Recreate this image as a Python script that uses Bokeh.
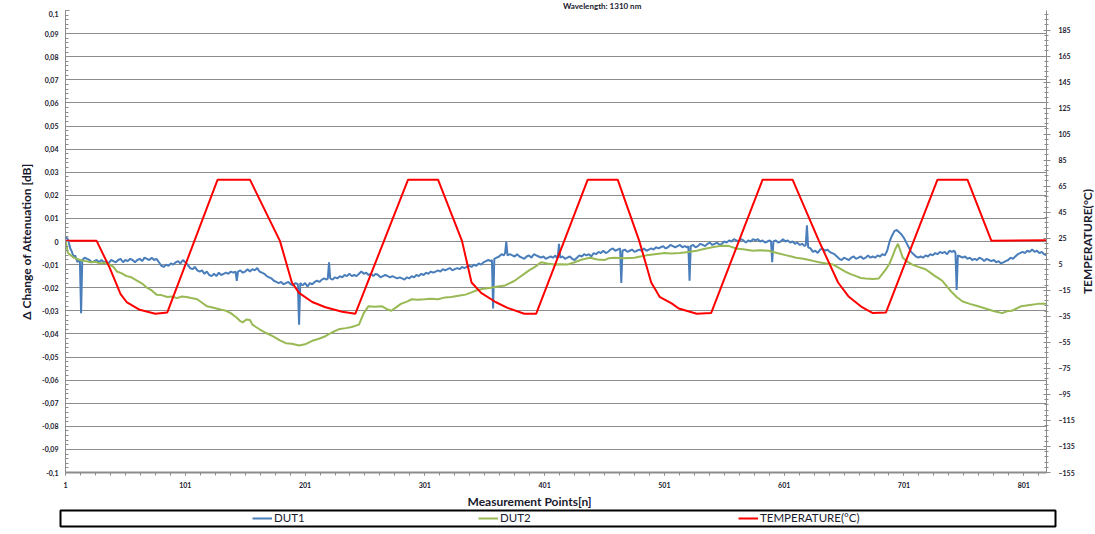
from bokeh.plotting import figure
from bokeh.layouts import column, row
from bokeh.models import (Range1d, LinearAxis, FixedTicker, Legend, LegendItem, Title,
                          Label)
from bokeh.embed import file_html
from bokeh.resources import INLINE

# ---------------- data ----------------
# DUT1: (measurement point, delta attenuation dB)
dut1_pts = [
    (1, 0.002), (2, 0.0015), (3, 0.001), (4, -0.001), (5, -0.003), (6, -0.004), (8, -0.007),
    (9, -0.006), (11, -0.009), (12, -0.008), (13, -0.008), (14, -0.031), (15, -0.008),
    (17, -0.007), (19, -0.0075), (21, -0.008), (23, -0.009), (25, -0.0085), (27, -0.008),
    (29, -0.009), (31, -0.008), (33, -0.009), (35, -0.0085), (37, -0.0095), (39, -0.008),
    (41, -0.0085), (43, -0.009), (45, -0.008), (47, -0.0075), (49, -0.009), (51, -0.008),
    (53, -0.0085), (55, -0.0075), (57, -0.008), (59, -0.009), (61, -0.008), (63, -0.0075),
    (65, -0.0085), (67, -0.007), (69, -0.0075), (71, -0.008), (73, -0.007), (75, -0.008),
    (77, -0.0075), (79, -0.009), (81, -0.0105), (83, -0.011), (85, -0.010), (87, -0.0105),
    (89, -0.0095), (91, -0.010), (93, -0.009), (95, -0.0085), (97, -0.0095), (99, -0.008),
    (101, -0.009), (103, -0.010), (105, -0.0115), (107, -0.012), (109, -0.011),
    (111, -0.0125), (113, -0.013), (115, -0.0125), (117, -0.014), (119, -0.013),
    (121, -0.0145), (123, -0.015), (125, -0.014), (127, -0.015), (129, -0.0135),
    (131, -0.0145), (133, -0.014), (135, -0.0135), (137, -0.014), (139, -0.013),
    (141, -0.0135), (143, -0.013), (144, -0.017), (145, -0.013), (147, -0.0125),
    (149, -0.0135), (151, -0.013), (153, -0.012), (155, -0.013), (157, -0.012),
    (159, -0.0125), (161, -0.0115), (163, -0.013), (165, -0.0135), (167, -0.014),
    (169, -0.015), (171, -0.0155), (173, -0.016), (175, -0.017), (177, -0.0175),
    (179, -0.018), (181, -0.0175), (183, -0.0185), (185, -0.018), (187, -0.0175),
    (189, -0.0185), (191, -0.019), (193, -0.018), (195, -0.0185), (196, -0.036),
    (197, -0.018), (199, -0.019), (201, -0.018), (203, -0.0195), (205, -0.018),
    (207, -0.0185), (209, -0.0175), (211, -0.017), (213, -0.0175), (215, -0.0165),
    (217, -0.016), (219, -0.0165), (220, -0.016), (221, -0.009), (222, -0.016),
    (224, -0.0165), (226, -0.0155), (228, -0.016), (230, -0.015), (232, -0.0155),
    (234, -0.0145), (236, -0.015), (238, -0.014), (240, -0.015), (242, -0.0145),
    (244, -0.015), (246, -0.014), (248, -0.013), (250, -0.014), (252, -0.0135),
    (254, -0.0145), (256, -0.014), (258, -0.015), (260, -0.014), (262, -0.0145),
    (264, -0.0155), (266, -0.015), (268, -0.0145), (270, -0.015), (272, -0.0155),
    (274, -0.015), (276, -0.0155), (278, -0.016), (280, -0.0155), (282, -0.016),
    (284, -0.0165), (286, -0.0155), (288, -0.016), (290, -0.015), (292, -0.0155),
    (294, -0.0145), (296, -0.015), (298, -0.014), (300, -0.0145), (302, -0.0135),
    (304, -0.014), (306, -0.013), (308, -0.0135), (310, -0.013), (312, -0.0125),
    (314, -0.013), (316, -0.012), (318, -0.0125), (320, -0.012), (322, -0.0115),
    (324, -0.0125), (326, -0.012), (328, -0.0115), (330, -0.012), (332, -0.011),
    (334, -0.0115), (336, -0.011), (338, -0.0105), (340, -0.011), (342, -0.010),
    (344, -0.0105), (346, -0.0095), (348, -0.010), (350, -0.009), (352, -0.0085),
    (354, -0.008), (356, -0.0085), (357, -0.008), (358, -0.029), (359, -0.0075),
    (361, -0.007), (363, -0.0065), (365, -0.0055), (367, -0.006), (368, -0.005),
    (369, 0.000), (370, -0.006), (372, -0.0055), (374, -0.006), (376, -0.0065),
    (378, -0.0055), (380, -0.0065), (382, -0.007), (384, -0.0075), (386, -0.0065),
    (388, -0.006), (390, -0.007), (392, -0.0055), (394, -0.006), (396, -0.0065),
    (398, -0.007), (400, -0.0065), (402, -0.0075), (404, -0.007), (406, -0.0065),
    (408, -0.007), (410, -0.006), (411, -0.007), (412, -0.0065), (413, -0.001),
    (414, -0.007), (416, -0.0065), (418, -0.0075), (420, -0.007), (422, -0.0065),
    (424, -0.0075), (426, -0.008), (428, -0.007), (430, -0.006), (432, -0.0065),
    (434, -0.0055), (436, -0.006), (438, -0.0055), (440, -0.0065), (442, -0.005),
    (444, -0.0055), (446, -0.0045), (448, -0.005), (450, -0.004), (452, -0.005),
    (454, -0.0045), (456, -0.0035), (458, -0.003), (460, -0.004), (462, -0.0035),
    (464, -0.003), (465, -0.018), (466, -0.004), (468, -0.0035), (470, -0.0045),
    (472, -0.004), (474, -0.0035), (476, -0.0045), (478, -0.004), (480, -0.0035),
    (482, -0.004), (484, -0.003), (486, -0.004), (488, -0.0035), (490, -0.003),
    (492, -0.0035), (494, -0.0025), (496, -0.003), (498, -0.0025), (500, -0.002),
    (502, -0.003), (504, -0.0025), (506, -0.0015), (508, -0.002), (510, -0.0025),
    (512, -0.002), (514, -0.0015), (516, -0.0025), (518, -0.002), (520, -0.0025),
    (521, -0.002), (522, -0.017), (523, -0.002), (525, -0.0015), (527, -0.0025),
    (529, -0.002), (531, -0.001), (533, -0.0015), (535, -0.002), (537, -0.001),
    (539, -0.0005), (541, -0.0015), (543, -0.001), (545, -0.0005), (547, -0.0015),
    (549, -0.001), (551, 0.000), (553, -0.0005), (555, 0.0005), (557, 0.000),
    (559, 0.001), (561, 0.0005), (563, 0.000), (565, 0.001), (567, 0.0005),
    (569, -0.0005), (571, 0.0005), (573, 0.000), (575, 0.001), (577, 0.0005),
    (579, 0.001), (581, 0.000), (583, 0.0005), (585, -0.0005), (587, 0.000),
    (589, 0.0005), (590, 0.000), (591, -0.009), (592, 0.000), (594, 0.0005),
    (596, -0.0005), (598, 0.000), (600, 0.001), (602, 0.000), (604, 0.0005),
    (606, -0.0005), (608, 0.000), (610, -0.001), (612, -0.0005), (614, -0.0015),
    (616, -0.001), (618, -0.002), (619, -0.0015), (620, 0.007), (621, -0.0025),
    (623, -0.003), (625, -0.0045), (627, -0.004), (629, -0.005), (631, -0.0035),
    (633, -0.003), (635, -0.004), (637, -0.0035), (639, -0.0045), (641, -0.005),
    (643, -0.0055), (645, -0.0065), (647, -0.0075), (649, -0.008), (651, -0.007),
    (653, -0.0075), (655, -0.008), (657, -0.007), (659, -0.0065), (661, -0.0075),
    (663, -0.007), (665, -0.0065), (667, -0.0075), (669, -0.007), (671, -0.006),
    (673, -0.007), (675, -0.0065), (677, -0.007), (679, -0.006), (681, -0.0065),
    (683, -0.0055), (685, -0.006), (687, -0.004), (689, 0.000), (691, 0.0025),
    (693, 0.0045), (695, 0.005), (697, 0.004), (699, 0.003), (701, 0.0015),
    (703, -0.0005), (705, -0.0025), (707, -0.0045), (709, -0.0055), (711, -0.0065),
    (713, -0.007), (715, -0.0065), (717, -0.007), (719, -0.006), (721, -0.0065),
    (723, -0.0055), (725, -0.006), (727, -0.005), (729, -0.0055), (731, -0.0045),
    (733, -0.005), (735, -0.0045), (737, -0.0055), (739, -0.004), (741, -0.0045),
    (743, -0.004), (744, -0.005), (745, -0.021), (746, -0.006), (748, -0.0065),
    (750, -0.007), (752, -0.0065), (754, -0.0075), (756, -0.007), (758, -0.008),
    (760, -0.0075), (762, -0.008), (764, -0.007), (766, -0.0075), (768, -0.0085),
    (770, -0.0075), (772, -0.008), (774, -0.0085), (776, -0.008), (778, -0.009),
    (780, -0.0085), (782, -0.0095), (784, -0.009), (786, -0.0085), (788, -0.008),
    (790, -0.007), (792, -0.0075), (794, -0.0065), (796, -0.0055), (798, -0.005),
    (800, -0.0045), (802, -0.005), (804, -0.004), (806, -0.0045), (808, -0.0035),
    (810, -0.0045), (812, -0.004), (814, -0.005), (816, -0.0045), (818, -0.0055),
    (820, -0.006),
]

# DUT2: (measurement point, delta attenuation dB)
dut2_pts = [
    (1, 0.000), (2, -0.002), (3, -0.005), (8, -0.007), (13, -0.008), (18, -0.0085),
    (22, -0.009), (26, -0.0088), (30, -0.0095), (34, -0.0092), (38, -0.010), (41, -0.011),
    (44, -0.013), (48, -0.0138), (52, -0.015), (56, -0.0155), (61, -0.017), (65, -0.0182),
    (69, -0.020), (73, -0.0212), (77, -0.023), (81, -0.0232), (86, -0.024), (90, -0.0238),
    (94, -0.0245), (98, -0.0238), (102, -0.024), (106, -0.0245), (111, -0.025),
    (115, -0.0265), (119, -0.028), (123, -0.0285), (127, -0.029), (131, -0.0295),
    (135, -0.030), (139, -0.031), (144, -0.033), (147, -0.0345), (149, -0.035),
    (152, -0.0338), (155, -0.034), (157, -0.036), (160, -0.037), (163, -0.038),
    (168, -0.0395), (174, -0.041), (180, -0.0428), (185, -0.044), (190, -0.0443),
    (196, -0.045), (201, -0.0445), (207, -0.043), (212, -0.0422), (218, -0.041),
    (223, -0.0395), (229, -0.038), (235, -0.0375), (240, -0.037), (246, -0.036),
    (250, -0.031), (254, -0.028), (259, -0.0282), (265, -0.028), (269, -0.0292),
    (273, -0.030), (277, -0.0285), (281, -0.027), (286, -0.026), (290, -0.025),
    (295, -0.0252), (301, -0.025), (306, -0.0248), (312, -0.025), (318, -0.0242),
    (323, -0.024), (329, -0.0235), (335, -0.023), (340, -0.022), (345, -0.021),
    (350, -0.0205), (356, -0.020), (362, -0.0195), (368, -0.019), (372, -0.018),
    (376, -0.017), (380, -0.0155), (384, -0.014), (388, -0.0125), (393, -0.011),
    (398, -0.009), (403, -0.0095), (409, -0.010), (414, -0.0098), (420, -0.010),
    (426, -0.009), (431, -0.008), (435, -0.0075), (439, -0.007), (445, -0.0078),
    (451, -0.008), (455, -0.0072), (459, -0.007), (467, -0.0072), (476, -0.007),
    (481, -0.0065), (486, -0.006), (493, -0.0055), (501, -0.005), (507, -0.0052),
    (514, -0.005), (521, -0.0045), (528, -0.004), (532, -0.0035), (536, -0.003),
    (541, -0.0025), (547, -0.002), (551, -0.0018), (555, -0.002), (561, -0.003),
    (568, -0.0035), (575, -0.004), (581, -0.0038), (588, -0.004), (595, -0.005),
    (603, -0.006), (607, -0.0065), (611, -0.007), (617, -0.0075), (622, -0.008),
    (626, -0.0085), (630, -0.009), (636, -0.0095), (642, -0.010), (647, -0.0115),
    (652, -0.013), (656, -0.014), (661, -0.015), (665, -0.0158), (669, -0.016),
    (675, -0.0162), (680, -0.016), (683, -0.014), (686, -0.012), (689, -0.0095),
    (691, -0.007), (694, -0.003), (696, -0.001), (698, -0.004), (700, -0.007),
    (704, -0.0088), (708, -0.010), (713, -0.011), (719, -0.012), (723, -0.0135),
    (727, -0.015), (730, -0.016), (733, -0.017), (737, -0.0195), (741, -0.022),
    (745, -0.024), (750, -0.026), (756, -0.027), (763, -0.028), (769, -0.029),
    (775, -0.030), (779, -0.0305), (783, -0.031), (787, -0.0302), (791, -0.030),
    (795, -0.029), (799, -0.028), (806, -0.0275), (813, -0.027), (820, -0.027),
]

# TEMPERATURE: (measurement point, degC)
temp_pts = [
    (1, 23), (27, 23), (38, 2), (47, -18), (52, -24), (63, -30), (76, -33), (86, -32),
    (128, 70), (155, 70), (180, 23), (190, -9), (196, -17), (207, -24), (218, -28),
    (232, -31.5), (243, -33), (287, 70), (312, 70), (332, 23), (340, -9), (348, -17),
    (360, -24), (370, -28.5), (384, -33), (394, -33), (437, 70), (462, 70), (480, 23),
    (490, -9), (497, -20), (507, -25), (513, -29), (528, -33), (540, -32.5), (583, 70),
    (608, 70), (630, 23), (646, -9), (655, -20), (666, -28), (675, -32.5), (686, -32),
    (729, 70), (754, 70), (774, 23), (820, 23.5),
]

left_ticks = [0.1, 0.09, 0.08, 0.07, 0.06, 0.05, 0.04, 0.03, 0.02, 0.01, 0.0,
              -0.01, -0.02, -0.03, -0.04, -0.05, -0.06, -0.07, -0.08, -0.09, -0.1]
left_labels = ["0,1", "0,09", "0,08", "0,07", "0,06", "0,05", "0,04", "0,03", "0,02",
               "0,01", "0", "-0,01", "-0,02", "-0,03", "-0,04", "-0,05", "-0,06",
               "-0,07", "-0,08", "-0,09", "-0,1"]
right_ticks = [185, 165, 145, 125, 105, 85, 65, 45, 25, 5, -15, -35, -55, -75, -95,
               -115, -135, -155]
x_ticks = [1, 101, 201, 301, 401, 501, 601, 701, 801]

title_text = "Wavelength: 1310 nm"
x_title = "Measurement Points[n]"
y_title = "\u0394 Change of Attenuation [dB]"
y2_title = "TEMPERATURE(\u00b0C)"
series_names = ["DUT1", "DUT2", "TEMPERATURE(\u00b0C)"]

dut1_n = [a for a, _ in dut1_pts]
dut1 = [b for _, b in dut1_pts]
dut2_n = [a for a, _ in dut2_pts]
dut2 = [b for _, b in dut2_pts]
temp_n = [a for a, _ in temp_pts]
temp = [b for _, b in temp_pts]

BLUE = "#4a7ebb"
GREEN = "#98b954"
RED = "#ff0000"
GRID = "#8c8c8c"
TXT = "#1a1a2e"
FONT = "Lato"

W1 = 1077   # main chart
WR = 17     # strip holding the right-hand axis title
WT = W1 + WR
HT = 10     # strip holding the chart title
H1 = 499
H2 = 21
FRAME_H = 463

# ---------------- title strip ----------------
pt = figure(width=WT, height=HT, output_backend="svg", toolbar_location=None, title=None,
            x_range=Range1d(0, WT), y_range=Range1d(0, HT),
            x_axis_location=None, y_axis_location=None,
            min_border_left=0, min_border_right=0, min_border_top=0, min_border_bottom=0)
pt.grid.visible = False
pt.outline_line_color = None
pt.border_fill_color = "white"
pt.add_layout(Label(x=595.5, y=1.5, text=title_text, text_align="center",
                    text_baseline="bottom", text_font=FONT, text_font_size="8px",
                    text_font_style="bold", text_color=TXT))

# ---------------- main chart ----------------
p = figure(width=W1, height=H1, output_backend="svg", toolbar_location=None, title=None,
           x_range=Range1d(1, 820), y_range=Range1d(-0.1, 0.1),
           min_border_left=65, min_border_right=W1 - 1052, min_border_top=0,
           min_border_bottom=H1 - FRAME_H)
p.extra_y_ranges = {"temp": Range1d(-155, 200)}
p.outline_line_color = None
p.background_fill_color = "white"
p.border_fill_color = "white"

# left axis
ya = p.yaxis[0]
ya.ticker = FixedTicker(ticks=left_ticks,
                        minor_ticks=[round(-0.1 + 0.002 * i, 4) for i in range(101)])
ya.major_label_overrides = {t: l for t, l in zip(left_ticks, left_labels)}
ya.axis_line_color = GRID
ya.major_tick_in = 4
ya.major_tick_out = 0
ya.minor_tick_in = 3
ya.minor_tick_out = 0
ya.major_tick_line_color = GRID
ya.minor_tick_line_color = GRID
ya.major_label_standoff = 7
ya.major_label_text_font = FONT
ya.major_label_text_font_size = "7px"
ya.major_label_text_font_style = "bold"
ya.major_label_text_color = TXT
ya.axis_label = y_title
ya.axis_label_standoff = 5
ya.axis_label_text_font = FONT
ya.axis_label_text_font_size = "12px"
ya.axis_label_text_font_style = "bold"
ya.axis_label_text_color = TXT

# bottom axis
xa = p.xaxis[0]
xa.ticker = FixedTicker(ticks=x_ticks, minor_ticks=[1 + 12.5 * i for i in range(66)])
xa.axis_line_color = GRID
xa.axis_line_width = 2
xa.major_tick_in = 0
xa.major_tick_out = 3
xa.minor_tick_in = 0
xa.minor_tick_out = 3
xa.major_tick_line_color = GRID
xa.minor_tick_line_color = GRID
xa.major_label_standoff = 6
xa.major_label_text_font = FONT
xa.major_label_text_font_size = "7px"
xa.major_label_text_font_style = "bold"
xa.major_label_text_color = TXT

p.add_layout(Title(text=x_title, align="left", offset=402, standoff=2,
                   text_font=FONT, text_font_size="12px", text_font_style="bold",
                   text_color=TXT), "below")

# right axis
ra = LinearAxis(y_range_name="temp",
                ticker=FixedTicker(ticks=right_ticks,
                                   minor_ticks=[-155 + 4 * i for i in range(90)]))
ra.axis_line_color = GRID
ra.major_tick_in = 3
ra.major_tick_out = 4
ra.minor_tick_in = 2
ra.minor_tick_out = 2
ra.major_tick_line_color = GRID
ra.minor_tick_line_color = GRID
ra.major_label_standoff = 8
ra.major_label_text_font = FONT
ra.major_label_text_font_size = "7px"
ra.major_label_text_font_style = "bold"
ra.major_label_text_color = TXT
p.add_layout(ra, "right")

p.xgrid.visible = False
p.ygrid.ticker = FixedTicker(ticks=left_ticks)
p.ygrid.grid_line_color = GRID
p.ygrid.grid_line_width = 1

p.line(dut1_n, dut1, line_color=BLUE, line_width=2)
p.line(dut2_n, dut2, line_color=GREEN, line_width=2)
p.line(temp_n, temp, line_color=RED, line_width=2, y_range_name="temp")

# ---------------- right-hand axis title strip ----------------
pr = figure(width=WR, height=H1, output_backend="svg", toolbar_location=None, title=None,
            x_range=Range1d(0, 1), y_range=Range1d(0, 1),
            x_axis_location=None, y_axis_location=None,
            min_border_left=WR - 1, min_border_right=0, min_border_top=0,
            min_border_bottom=H1 - FRAME_H)
pr.grid.visible = False
pr.outline_line_color = None
pr.border_fill_color = "white"
pr.add_layout(Title(text=y2_title, align="center", standoff=0,
                    text_font=FONT, text_font_size="12px", text_font_style="bold",
                    text_color=TXT), "left")

# ---------------- legend strip ----------------
p2 = figure(width=WT, height=H2, output_backend="svg", toolbar_location=None, title=None,
            x_range=Range1d(-20, -10), y_range=Range1d(0, 1),
            x_axis_location=None, y_axis_location=None,
            min_border_left=60, min_border_right=WT - 1055, min_border_top=1,
            min_border_bottom=H2 - 17)
p2.grid.visible = False
p2.outline_line_color = "black"
p2.outline_line_width = 2
p2.background_fill_color = "white"
p2.border_fill_color = "white"

# same series (outside this strip's visible range) so that the legend keys are theirs
k1 = p2.line(dut1_n, dut1, line_color=BLUE, line_width=2)
k2 = p2.line(dut2_n, dut2, line_color=GREEN, line_width=2)
k3 = p2.line(temp_n, temp, line_color=RED, line_width=2)
for r, name, vx in zip([k1, k2, k3], series_names, [192, 418, 678]):
    lg = Legend(items=[LegendItem(label=name, renderers=[r])], location=(vx, 2),
                orientation="horizontal", padding=0, margin=0, spacing=0,
                glyph_width=20, glyph_height=12, label_height=12, label_standoff=2,
                border_line_alpha=0, background_fill_alpha=0,
                label_text_font=FONT, label_text_font_size="11.5px",
                label_text_color=TXT)
    p2.add_layout(lg)

layout = column(pt, row(p, pr, spacing=0), p2, spacing=0)
open("out.html", "w").write(file_html(layout, INLINE))
